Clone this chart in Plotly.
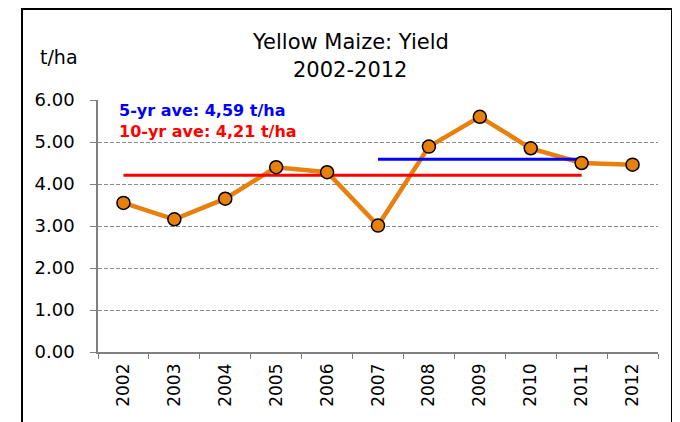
import plotly.graph_objects as go

years = ["2002", "2003", "2004", "2005", "2006", "2007", "2008", "2009", "2010", "2011", "2012"]
yields = [3.55, 3.16, 3.65, 4.40, 4.28, 3.01, 4.89, 5.60, 4.85, 4.50, 4.46]
avg5_years = ["2007", "2011"]
avg5_value = 4.59
avg10_years = ["2002", "2011"]
avg10_value = 4.21
y_ticks = [0, 1, 2, 3, 4, 5, 6]

FONT = "DejaVu Sans, sans-serif"

OFF = 8  # page body margin offset
W, H = 680, 422
# desired plot area in screenshot coordinates
X0, X1, Y0, Y1 = 98, 658, 100, 352
L, R, T = X0 - OFF, W - (X1 - OFF), Y0 - OFF
B = H - (Y1 - OFF)
pw, ph = W - L - R, H - T - B


def px(x):
    return (x - X0) / pw


def py(y):
    return (Y1 - y) / ph


ORANGE = "#E8800E"
fig = go.Figure()
fig.add_trace(go.Scatter(x=years, y=yields, mode="lines",
                         line=dict(color=ORANGE, width=4.5), hoverinfo="skip"))
fig.add_trace(go.Scatter(x=avg10_years, y=[avg10_value] * 2, mode="lines",
                         line=dict(color="#FF0000", width=3), hoverinfo="skip"))
fig.add_trace(go.Scatter(x=avg5_years, y=[avg5_value] * 2, mode="lines",
                         line=dict(color="#0000FF", width=3), hoverinfo="skip"))
fig.add_trace(go.Scatter(x=years, y=yields, mode="markers",
                         marker=dict(size=13, color=ORANGE, line=dict(color="black", width=1.5))))

fig.update_layout(
    width=W, height=H, showlegend=False,
    margin=dict(l=L, r=R, t=T, b=B),
    paper_bgcolor="white", plot_bgcolor="white",
    font=dict(family=FONT, color="black"),
)
fig.update_xaxes(type="category", categoryorder="array", categoryarray=years,
                 range=[-0.5, 10.5], showgrid=False,
                 showline=True, linecolor="#808080", linewidth=1.5,
                 ticks="outside", tickson="boundaries", ticklen=5, tickcolor="#808080",
                 tickangle=-90, tickfont=dict(size=17), ticklabelstandoff=3)
fig.update_yaxes(range=[0, 6], tickvals=y_ticks, tickformat=".2f",
                 showgrid=True, gridcolor="#8C8C8C", griddash="4px,2px", gridwidth=1,
                 showline=True, linecolor="#808080", linewidth=1.5,
                 ticks="outside", ticklen=6, tickcolor="#808080",
                 tickfont=dict(size=18), zeroline=False, ticklabelstandoff=12)

anns = [
    dict(text="Yellow Maize: Yield", x=px(350), y=py(42), font=dict(size=21)),
    dict(text="2002-2012", x=px(350), y=py(70), font=dict(size=21)),
    dict(text="t/ha", x=px(59), y=py(57), font=dict(size=19)),
    dict(text="<b>5-yr ave: 4,59 t/ha</b>", x=px(117), y=py(111), xanchor="left",
         font=dict(size=16, color="#0000FF")),
    dict(text="<b>10-yr ave: 4,21 t/ha</b>", x=px(117), y=py(131), xanchor="left",
         font=dict(size=16, color="#FF0000")),
]
for a in anns:
    a.setdefault("xanchor", "center")
    fig.add_annotation(xref="paper", yref="paper", yanchor="middle", showarrow=False, **a)

fig.add_shape(type="rect", xref="paper", yref="paper",
              x0=px(22), x1=px(672), y0=py(9), y1=py(440),
              line=dict(color="black", width=2), layer="above")

fig.write_html("out.html")
